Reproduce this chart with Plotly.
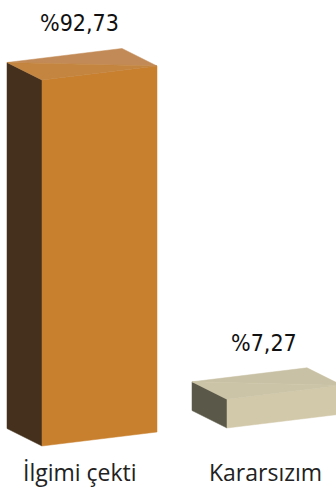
import plotly.graph_objects as go

# Survey answers and their shares (%)
categories = ["İlgimi çekti", "Kararsızım"]
values = [92.73, 7.27]
value_labels = ["%92,73", "%7,27"]

# Face colours per bar: front, side, top (lit), top (shaded)
front_colors = ["#C8802F", "#D2C9AA"]
side_colors = ["#45301D", "#5A5849"]
top_light_colors = ["#C28A57", "#C8C1A5"]
top_dark_colors = ["#C3853F", "#CCC4A7"]

# Oblique projection of the 3D boxes onto the page (pixel space)
W, H = 336, 494
bar_left = [42, 227]           # left edge of each front face
floor_y0, floor_slope = 446, 0.0973
bar_width = 115
u_vec = (bar_width, -14.0)     # along the bar width
depth_vec = (-35.0, -17.5)     # towards the back
px_per_pct = 3.947             # vertical scale per percentage point


def project(i, u, v, w):
    x0 = bar_left[i]
    y0 = floor_y0 - floor_slope * (x0 - bar_left[0])
    x = x0 + u * u_vec[0] + w * depth_vec[0]
    y = y0 + u * u_vec[1] + w * depth_vec[1] - v * px_per_pct
    return x, y


def poly(i, pts, color):
    xy = [project(i, *p) for p in pts]
    xs = [p[0] for p in xy] + [xy[0][0]]
    ys = [p[1] for p in xy] + [xy[0][1]]
    return go.Scatter(x=xs, y=ys, fill="toself", fillcolor=color, mode="lines",
                      line=dict(width=0.5, color=color), hoverinfo="skip",
                      showlegend=False)


fig = go.Figure()
annotations = []
for i, v in enumerate(values):
    # side face (left)
    fig.add_trace(poly(i, [(0, 0, 0), (0, 0, 1), (0, v, 1), (0, v, 0)], side_colors[i]))
    # front face
    fig.add_trace(poly(i, [(0, 0, 0), (1, 0, 0), (1, v, 0), (0, v, 0)], front_colors[i]))
    # top face split along its diagonal for a soft shading
    fig.add_trace(poly(i, [(0, v, 1), (1, v, 1), (1, v, 0)], top_light_colors[i]))
    fig.add_trace(poly(i, [(0, v, 1), (1, v, 0), (0, v, 0)], top_dark_colors[i]))

    cx, cy = project(i, 0.5, v, 0.5)
    annotations.append(dict(x=cx - 3, y=cy - 41, xref="x", yref="y", text=value_labels[i],
                            showarrow=False, xanchor="center", yanchor="middle",
                            font=dict(family="DejaVu Sans Condensed, sans-serif",
                                      size=23, color="#111111")))
    bx, _ = project(i, 0.5, 0, 0.5)
    annotations.append(dict(x=bx - 2, y=472, xref="x", yref="y", text=categories[i],
                            showarrow=False, xanchor="center", yanchor="middle",
                            font=dict(family="Open Sans, Noto Sans, sans-serif",
                                      size=23, color="#222222")))

fig.update_layout(
    width=W, height=H,
    margin=dict(l=0, r=0, t=0, b=0),
    paper_bgcolor="white", plot_bgcolor="white",
    xaxis=dict(range=[0, W], visible=False, fixedrange=True),
    yaxis=dict(range=[H, 0], visible=False, fixedrange=True),
    annotations=annotations,
)

fig.write_html("out.html")
